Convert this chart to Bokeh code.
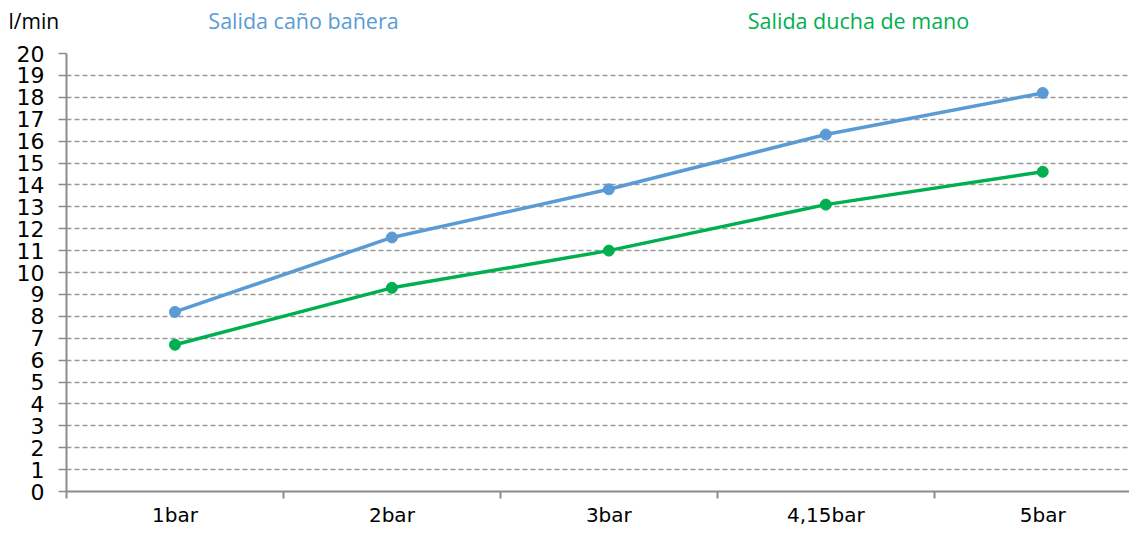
from bokeh.plotting import figure
from bokeh.layouts import column
from bokeh.models import Range1d, FixedTicker
from bokeh.core.properties import value
from bokeh.embed import file_html
from bokeh.resources import INLINE

# ---- data ----
pressures = ["1bar", "2bar", "3bar", "4,15bar", "5bar"]
bath_spout = [8.2, 11.6, 13.8, 16.3, 18.2]      # Salida caño bañera
hand_shower = [6.7, 9.3, 11.0, 13.1, 14.6]      # Salida ducha de mano
y_ticks = list(range(0, 21))
unit_label = "l/min"
series_names = ["Salida caño bañera", "Salida ducha de mano"]

BLUE = "#5b9bd5"
GREEN = "#00b050"
GRAY = "#8c8c8c"
FONT = "DejaVu Sans"
TFONT = "Open Sans"

xs = [i + 0.5 for i in range(len(pressures))]

W = 1129
HEAD_H = 40
MAIN_H = 489

# ---- header with the unit and series names (pixel coordinates) ----
head = figure(width=W, height=HEAD_H, output_backend="svg", toolbar_location=None,
              x_range=Range1d(0, W), y_range=Range1d(0, HEAD_H), min_border=0,
              min_border_left=0, min_border_right=0, min_border_top=0,
              min_border_bottom=0)
head.frame_align = False
head.axis.visible = False
head.grid.visible = False
head.outline_line_color = None
head.text(x=[8], y=[HEAD_H - 20], text=[unit_label], text_font=value(TFONT),
          text_font_size="21px", text_color="black",
          text_align="left", text_baseline="middle")
head.text(x=[303, 858], y=[HEAD_H - 20, HEAD_H - 20], text=series_names,
          text_font=value(TFONT), text_font_size="21.5px",
          text_color=[BLUE, GREEN], text_align="center", text_baseline="middle")

# ---- main chart ----
p = figure(width=W, height=MAIN_H, output_backend="svg", toolbar_location=None,
           x_range=Range1d(0, 4.9), y_range=Range1d(0, 20),
           min_border_left=66, min_border_right=0, min_border_top=13,
           min_border_bottom=10)
p.frame_align = False
p.outline_line_color = None
p.background_fill_color = "white"

p.xaxis.ticker = FixedTicker(ticks=xs, minor_ticks=list(range(len(pressures))))
p.xaxis.major_label_overrides = {x: lab for x, lab in zip(xs, pressures)}
p.xaxis.major_tick_out = 0
p.xaxis.major_tick_in = 0
p.xaxis.minor_tick_out = 7
p.xaxis.minor_tick_in = 0
p.xaxis.minor_tick_line_color = GRAY
p.xaxis.minor_tick_line_width = 2
p.xaxis.axis_line_color = GRAY
p.xaxis.axis_line_width = 2
p.xaxis.major_label_text_font = FONT
p.xaxis.major_label_text_font_size = "20px"
p.xaxis.major_label_text_color = "black"
p.xaxis.major_label_standoff = 4

p.yaxis.ticker = FixedTicker(ticks=y_ticks, minor_ticks=[])
p.yaxis.major_tick_out = 8
p.yaxis.major_tick_in = 0
p.yaxis.major_tick_line_color = GRAY
p.yaxis.major_tick_line_width = 1.5
p.yaxis.axis_line_color = GRAY
p.yaxis.axis_line_width = 2
p.yaxis.major_label_text_font = FONT
p.yaxis.major_label_text_font_size = "22px"
p.yaxis.major_label_text_color = "black"
p.yaxis.major_label_standoff = 14

p.xgrid.grid_line_color = None
p.ygrid.ticker = FixedTicker(ticks=y_ticks[1:])
p.ygrid.grid_line_color = "#999999"
p.ygrid.grid_line_dash = "5 3"
p.ygrid.grid_line_width = 1.5

p.line(xs, bath_spout, line_color=BLUE, line_width=3.5)
p.scatter(xs, bath_spout, size=11, fill_color=BLUE, line_color=BLUE)
p.line(xs, hand_shower, line_color=GREEN, line_width=3.5)
p.scatter(xs, hand_shower, size=11, fill_color=GREEN, line_color=GREEN)

layout = column(head, p, spacing=0)
open("out.html", "w").write(file_html(layout, INLINE))
